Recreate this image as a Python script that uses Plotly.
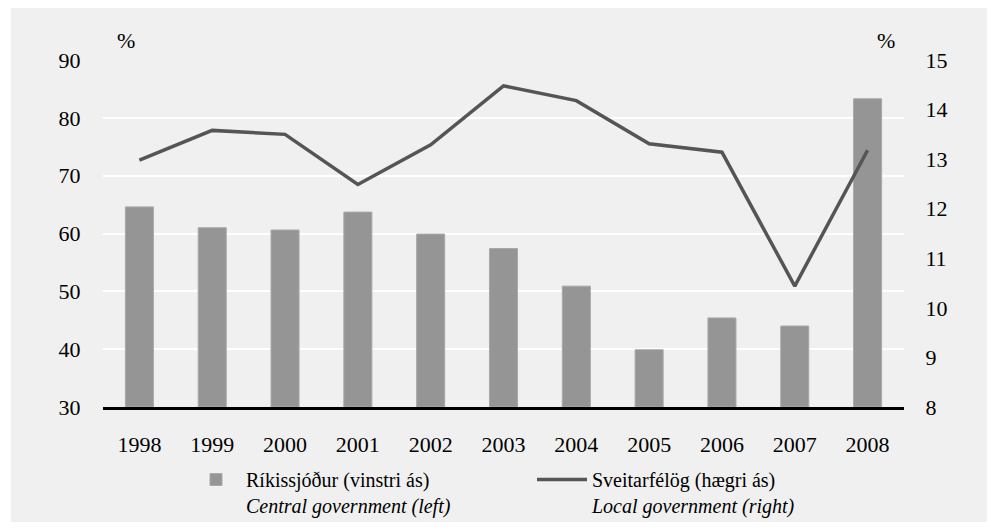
import plotly.graph_objects as go

years = ["1998", "1999", "2000", "2001", "2002", "2003", "2004", "2005", "2006", "2007", "2008"]
central = [64.6, 61.0, 60.6, 63.7, 59.9, 57.4, 50.9, 39.9, 45.4, 44.0, 83.3]
local = [12.98, 13.58, 13.5, 12.49, 13.29, 14.48, 14.18, 13.31, 13.14, 10.44, 13.18]

name_bar = "Ríkissjóður (vinstri ás)<br><i>Central government (left)</i>"
name_line = "Sveitarfélög (hægri ás)<br><i>Local government (right)</i>"

left_ticks = [30, 40, 50, 60, 70, 80, 90]
right_ticks = [8, 9, 10, 11, 12, 13, 14, 15]

FONT = "Liberation Serif, Times New Roman, serif"

fig = go.Figure()
fig.add_trace(go.Bar(
    x=years, y=[v - 30 for v in central], base=30, name=name_bar,
    marker=dict(color="#959595", line=dict(color="#a8a8a8", width=1)),
    yaxis="y", legend="legend",
))
fig.add_trace(go.Scatter(
    x=years, y=local, name=name_line, mode="lines",
    line=dict(color="#555555", width=3.5),
    yaxis="y2", legend="legend2",
))

# page has an 8px body margin: screen = figure + 8
OFF = 8
W, H = 995, 532
L, R, T, B = 95, 99, 52, 133
pw, ph = W - L - R, H - T - B

def px_x(p):
    return (p - OFF - L) / pw

def px_y(p):
    return (H - B - (p - OFF)) / ph

leg_common = dict(
    xref="paper", yref="paper", xanchor="left", yanchor="top",
    valign="top", bgcolor="rgba(0,0,0,0)",
    font=dict(family=FONT, size=20), itemwidth=50,
)

fig.update_layout(
    width=W, height=H,
    margin=dict(l=L, r=R, t=T, b=B, autoexpand=False),
    paper_bgcolor="white",
    plot_bgcolor="#dcdcdc",
    font=dict(family=FONT, size=22, color="black"),
    bargap=0.615,
    showlegend=True,
    legend=dict(x=px_x(186), y=px_y(460), **leg_common),
    legend2=dict(x=px_x(532), y=px_y(460), **leg_common),
    xaxis=dict(
        showgrid=False, showline=True, linecolor="black", linewidth=3,
        ticks="outside", ticklen=16, tickcolor="rgba(0,0,0,0)",
        tickfont=dict(size=22),
    ),
    yaxis=dict(
        range=[30, 90], tickvals=left_ticks, showgrid=True,
        gridcolor="white", gridwidth=2, zeroline=False, showline=False,
        ticks="outside", ticklen=17, tickcolor="rgba(0,0,0,0)",
        tickfont=dict(size=22),
    ),
    yaxis2=dict(
        range=[8, 15], tickvals=right_ticks, overlaying="y", side="right",
        showgrid=False, zeroline=False, showline=False,
        ticks="outside", ticklen=16, tickcolor="rgba(0,0,0,0)",
        tickfont=dict(size=22),
    ),
    shapes=[dict(
        type="rect", xref="paper", yref="paper", layer="below",
        x0=px_x(11), x1=px_x(993), y0=px_y(522), y1=px_y(8),
        fillcolor="#f0f0f0", line=dict(width=0),
    )],
    annotations=[
        dict(text="%", xref="paper", yref="paper", x=px_x(126), y=px_y(40),
             xanchor="center", yanchor="middle",
             showarrow=False, font=dict(size=22)),
        dict(text="%", xref="paper", yref="paper", x=px_x(886), y=px_y(40),
             xanchor="center", yanchor="middle",
             showarrow=False, font=dict(size=22)),
    ],
)

fig.write_html("out.html")
